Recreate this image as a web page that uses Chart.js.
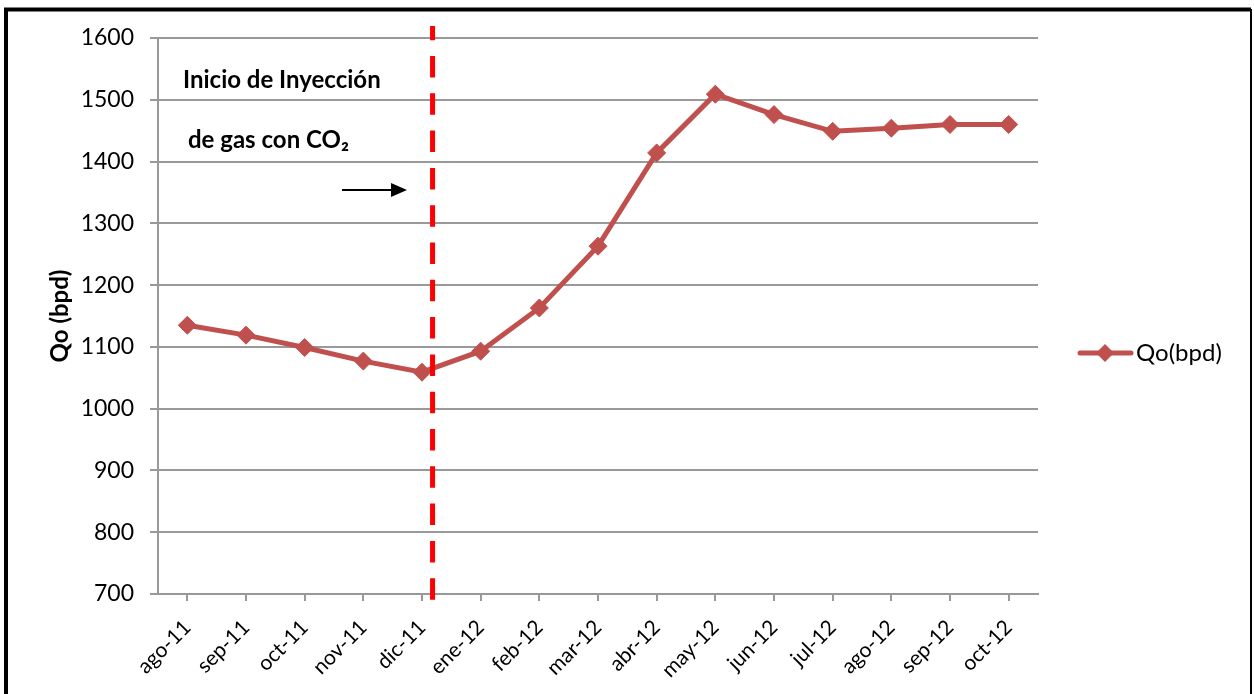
<!DOCTYPE html>
<html>
<head>
<meta charset="utf-8">
<script src="https://cdn.jsdelivr.net/npm/chart.js@4.4.1/dist/chart.umd.min.js"></script>
<style>
    html, body { margin: 0; padding: 0; background: #fff; }
    #wrap { position: relative; width: 1254px; height: 694px; }
</style>
</head>
<body>
<div id="wrap"><canvas id="qoChart" width="1254" height="694"></canvas></div>
<script>
const months = ["ago-11", "sep-11", "oct-11", "nov-11", "dic-11", "ene-12", "feb-12",
    "mar-12", "abr-12", "may-12", "jun-12", "jul-12", "ago-12", "sep-12", "oct-12"];
const qoValues = [1135, 1119, 1099, 1077, 1059, 1093, 1163, 1263, 1414, 1509, 1476, 1449, 1454, 1460, 1460];
const seriesName = "Qo(bpd)";
const yTitle = "Qo (bpd)";
const noteLines = ["Inicio de Inyección", "de gas con CO₂"];
const injectionAt = 4.18; // entre dic-11 y ene-12

const lineColor = "#C0504D";
const gridColor = "#999999";
const fontFamily = "Lato, 'DejaVu Sans', sans-serif";

// dibuja marco, titulo del eje, nota, flecha, linea vertical y leyenda
const extras = {
    id: "extras",
    afterDatasetsDraw(chart) {
        const { ctx, chartArea, scales } = chart;
        ctx.save();

        // linea de inicio de inyeccion
        const xInj = scales.x.getPixelForValue(injectionAt);
        ctx.strokeStyle = "#FF0000";
        ctx.lineWidth = 5;
        ctx.setLineDash([21.5, 15.8]);
        ctx.lineDashOffset = 7.3;
        ctx.beginPath();
        ctx.moveTo(xInj, 26);
        ctx.lineTo(xInj, 600);
        ctx.stroke();
        ctx.setLineDash([]);

        // nota
        ctx.fillStyle = "#000";
        ctx.font = "bold 24px " + fontFamily;
        ctx.textBaseline = "middle";
        ctx.textAlign = "left";
        ctx.fillText(noteLines[0], 183, 80);
        ctx.fillText(noteLines[1], 188, 140);

        // flecha
        ctx.strokeStyle = "#000";
        ctx.lineWidth = 2;
        ctx.beginPath();
        ctx.moveTo(342, 190);
        ctx.lineTo(394, 190);
        ctx.stroke();
        ctx.beginPath();
        ctx.moveTo(407, 190);
        ctx.lineTo(391, 183);
        ctx.lineTo(391, 197);
        ctx.closePath();
        ctx.fill();

        // titulo eje y
        ctx.save();
        ctx.translate(60, (chartArea.top + chartArea.bottom) / 2);
        ctx.rotate(-Math.PI / 2);
        ctx.textAlign = "center";
        ctx.font = "bold 24px " + fontFamily;
        ctx.fillText(yTitle, 0, 0);
        ctx.restore();

        // leyenda
        const ly = 353;
        ctx.strokeStyle = lineColor;
        ctx.lineWidth = 5;
        ctx.lineCap = "round";
        ctx.beginPath();
        ctx.moveTo(1080, ly);
        ctx.lineTo(1131, ly);
        ctx.stroke();
        ctx.fillStyle = lineColor;
        ctx.beginPath();
        ctx.moveTo(1105, ly - 9);
        ctx.lineTo(1114, ly);
        ctx.lineTo(1105, ly + 9);
        ctx.lineTo(1096, ly);
        ctx.closePath();
        ctx.fill();
        ctx.fillStyle = "#000";
        ctx.font = "24px " + fontFamily;
        ctx.textAlign = "left";
        ctx.fillText(chart.data.datasets[0].label, 1136, ly);

        // marco
        ctx.strokeStyle = "#000";
        ctx.lineCap = "butt";
        ctx.lineWidth = 4;
        ctx.beginPath();
        ctx.moveTo(6, 700);
        ctx.lineTo(6, 9.5);
        ctx.lineTo(1251, 9.5);
        ctx.stroke();
        ctx.lineWidth = 2;
        ctx.beginPath();
        ctx.moveTo(1251, 9);
        ctx.lineTo(1251, 700);
        ctx.stroke();

        ctx.restore();
    },
};

const ctx = document.getElementById("qoChart").getContext("2d");

new Chart(ctx, {
    type: "line",
    data: {
        labels: months,
        datasets: [
            {
                label: seriesName,
                data: qoValues,
                borderColor: lineColor,
                backgroundColor: lineColor,
                borderWidth: 5,
                pointStyle: "rectRot",
                pointRadius: 9,
                pointHoverRadius: 9,
                pointBackgroundColor: lineColor,
                pointBorderColor: lineColor,
                pointBorderWidth: 1,
                tension: 0,
                fill: false,
            },
        ],
    },
    options: {
        responsive: false,
        animation: false,
        layout: {
            padding: { top: 38, right: 216, left: 0, bottom: 0 },
        },
        scales: {
            y: {
                min: 700,
                max: 1600,
                afterFit: (s) => { s.width = 158; },
                ticks: {
                    stepSize: 100,
                    color: "#000",
                    padding: 16,
                    font: { family: fontFamily, size: 23 },
                    callback: (v) => String(v),
                },
                grid: {
                    color: gridColor,
                    lineWidth: 2,
                    tickLength: 8,
                },
                border: { color: gridColor, width: 2 },
            },
            x: {
                offset: true,
                afterFit: (s) => { s.height = 100; },
                ticks: {
                    color: "#000",
                    minRotation: 45,
                    maxRotation: 45,
                    padding: 14,
                    autoSkip: false,
                    font: { family: fontFamily, size: 21 },
                },
                grid: {
                    drawOnChartArea: false,
                    color: gridColor,
                    lineWidth: 2,
                    tickLength: 7,
                },
                border: { color: gridColor, width: 2 },
            },
        },
        plugins: {
            legend: { display: false },
            tooltip: { enabled: false },
        },
    },
    plugins: [extras],
});
</script>
</body>
</html>
